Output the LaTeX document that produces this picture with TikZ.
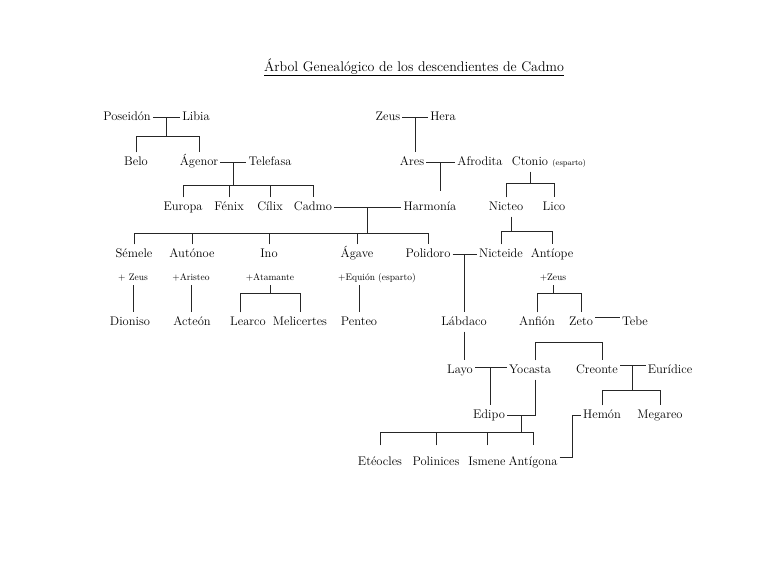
\documentclass[tikz,border=0pt]{standalone}
\usetikzlibrary{calc}
\usetikzlibrary{positioning}
\tikzset{
    person/.style={
        font=\fontsize{12.5}{15}\selectfont,
        text height=9pt,
        text depth=3pt,
        inner xsep=2pt,
        inner ysep=3.5pt,
        anchor=base,
    },
    partner/.style={
        font=\fontsize{9.5}{11}\selectfont,
        text height=6.5pt,
        text depth=2pt,
        inner xsep=1pt,
        inner ysep=3pt,
        anchor=base,
    },
    link/.style={
        draw=black!85,
        line width=1pt,
    },
}

\begin{document}
\begin{tikzpicture}[x=1pt,y=-1pt]

    \useasboundingbox (0,0) rectangle (768,576);

    \node[font=\fontsize{14}{16}\selectfont, anchor=base] (title) at (414,71)
        {\underline{Árbol Genealógico de los descendientes de Cadmo}};

    % generations
    \node[person] (poseidon) at (127,120) {Poseidón};
    \node[person] (libia) at (196,120) {Libia};
    \node[person] (zeus) at (388,120) {Zeus};
    \node[person] (hera) at (443,120) {Hera};

    \node[person] (belo) at (136,165) {Belo};
    \node[person] (agenor) at (199,165) {Ágenor};
    \node[person] (telefasa) at (270,165) {Telefasa};
    \node[person] (ares) at (412,165) {Ares};
    \node[person] (afrodita) at (480,165) {Afrodita};
    \node[person] (ctonio) at (530,165) {Ctonio};
    \node[partner, font=\fontsize{8}{10}\selectfont, anchor=base west] (ctonioesp)
        at ([xshift=1pt]ctonio.base east) {(esparto)};

    \node[person] (europa) at (183,210) {Europa};
    \node[person] (fenix) at (229,210) {Fénix};
    \node[person] (cilix) at (270,210) {Cílix};
    \node[person] (cadmo) at (313,210) {Cadmo};
    \node[person] (harmonia) at (430,210) {Harmonía};
    \node[person] (nicteo) at (506,210) {Nicteo};
    \node[person] (lico) at (554,210) {Lico};

    \node[person] (semele) at (134,257) {Sémele};
    \node[person] (autonoe) at (192,257) {Autónoe};
    \node[person] (ino) at (269,257) {Ino};
    \node[person] (agave) at (357,257) {Ágave};
    \node[person] (polidoro) at (428,257) {Polidoro};
    \node[person] (nicteide) at (501,257) {Nicteide};
    \node[person] (antiope) at (552,257) {Antíope};

    \node[partner] (zeussemele) at (133,280) {+ Zeus};
    \node[partner] (aristeo) at (191,280) {+Aristeo};
    \node[partner] (atamante) at (270,280) {+Atamante};
    \node[partner] (equion) at (377,280) {+Equión (esparto)};
    \node[partner] (zeusantiope) at (553,280) {+Zeus};

    \node[person] (dioniso) at (130,325) {Dioniso};
    \node[person] (acteon) at (192,325) {Acteón};
    \node[person] (learco) at (248,325) {Learco};
    \node[person] (melicertes) at (300,325) {Melicertes};
    \node[person] (penteo) at (359,325) {Penteo};
    \node[person] (labdaco) at (464,325) {Lábdaco};
    \node[person] (anfion) at (537,325) {Anfión};
    \node[person] (zeto) at (581,325) {Zeto};
    \node[person] (tebe) at (635,325) {Tebe};

    \node[person] (layo) at (460,373) {Layo};
    \node[person] (yocasta) at (530,373) {Yocasta};
    \node[person] (creonte) at (597,373) {Creonte};
    \node[person] (euridice) at (670,373) {Eurídice};

    \node[person] (edipo) at (489,418) {Edipo};
    \node[person] (hemon) at (602,418) {Hemón};
    \node[person] (megareo) at (660,418) {Megareo};

    \node[person] (eteocles) at (380,465) {Etéocles};
    \node[person] (polinices) at (436,465) {Polinices};
    \node[person] (ismene) at (487,465) {Ismene};
    \node[person] (antigona) at (533,465) {Antígona};

    % Poseidon y Libia
    \draw[link] (poseidon.mid east) -- coordinate (pl) (libia.mid west);
    \draw[link] (pl) -- ++(0,19) coordinate (plbar);
    \draw[link] (belo.north) |- (plbar) -| (agenor.north);

    % Agenor y Telefasa
    \draw[link] (agenor.mid east) -- coordinate (at) (telefasa.mid west);
    \draw[link] (at) -- ++(0,23) coordinate (atbar);
    \draw[link] (europa.north) |- (atbar) -| (cadmo.north);
    \foreach \c in {fenix,cilix}
    {
        \draw[link] (\c.north) -- (\c.north |- atbar);
    }

    % Zeus y Hera, Ares y Afrodita
    \draw[link] (zeus.mid east) -- coordinate (zh) (hera.mid west);
    \draw[link] (zh) -- (zh |- ares.north);
    \draw[link] (ares.mid east) -- coordinate (aa) (afrodita.mid west);
    \draw[link] (aa) -- ++(0,28) coordinate (aaend);

    % Cadmo y Harmonia
    \draw[link] (cadmo.mid east) -- coordinate (ch) (harmonia.mid west);
    \draw[link] (ch) -- ++(0,26) coordinate (chbar);
    \draw[link] (semele.north) |- (chbar) -| (polidoro.north);
    \foreach \c in {autonoe,ino,agave}
    {
        \draw[link] (\c.north) -- (\c.north |- chbar);
    }

    \draw[link] (zeussemele.south) -- (zeussemele.south |- dioniso.north);
    \draw[link] (aristeo.south) -- (aristeo.south |- acteon.north);
    \draw[link] (atamante.south) -- ++(0,8) coordinate (iabar);
    \draw[link] ([xshift=-8pt]learco.north) |- (iabar) -| (melicertes.north);
    \draw[link] (penteo.north |- equion.south) -- (penteo.north);

    % Ctonio y Nicteo
    \draw[link] (ctonio.south) -- ++(0,12) coordinate (ctbar);
    \draw[link] (nicteo.north) |- (ctbar) -| (lico.north);
    \draw[link] ([xshift=5pt]nicteo.south) -- ++(0,15) coordinate (nibar);
    \draw[link] (nicteide.north) |- (nibar) -| (antiope.north);

    % Polidoro y Nicteide
    \draw[link] (polidoro.mid east) -- coordinate (pn) (nicteide.mid west);
    \draw[link] (pn) -- (pn |- labdaco.north);

    % Antiope y Zeus
    \draw[link] (zeusantiope.south) -- ++(0,8) coordinate (azbar);
    \draw[link] (anfion.north) |- (azbar) -| (zeto.north);
    \draw[link] ([yshift=5pt]zeto.mid east) -- ([yshift=5pt]tebe.mid west);

    % Labdaco, Layo y Yocasta
    \draw[link] (labdaco.south) -- (labdaco.south |- layo.north);
    \draw[link] ([yshift=3pt]layo.mid east) -- coordinate (ly) ([yshift=3pt]yocasta.mid west);
    \draw[link] (ly) -- (ly |- edipo.north);
    \draw[link] ([xshift=5pt]yocasta.north) -- ++(0,-18) -| ([xshift=5pt]creonte.north);

    % Edipo y Yocasta
    \draw[link] ([xshift=5pt]yocasta.south) |- coordinate[pos=.75] (ey) (edipo.mid east);
    \draw[link] (ey) -- ++(0,17) coordinate (edbar);
    \draw[link] ([yshift=7pt]eteocles.north) |- (edbar) -| ([yshift=7pt]antigona.north);
    \foreach \c in {polinices,ismene}
    {
        \draw[link] ([yshift=7pt]\c.north) -- (\c.north |- edbar);
    }

    % Creonte y Euridice
    \draw[link] ([yshift=5pt]creonte.mid east) -- coordinate (ce) ([yshift=5pt]euridice.mid west);
    \draw[link] (ce) -- ++(0,25) coordinate (cebar);
    \draw[link] (hemon.north) |- (cebar) -| (megareo.north);

    % Antigona y Hemon
    \draw[link] ([yshift=5pt]antigona.mid east) -| ([xshift=-8pt]hemon.mid west) -- (hemon.mid west);

\end{tikzpicture}
\end{document}
